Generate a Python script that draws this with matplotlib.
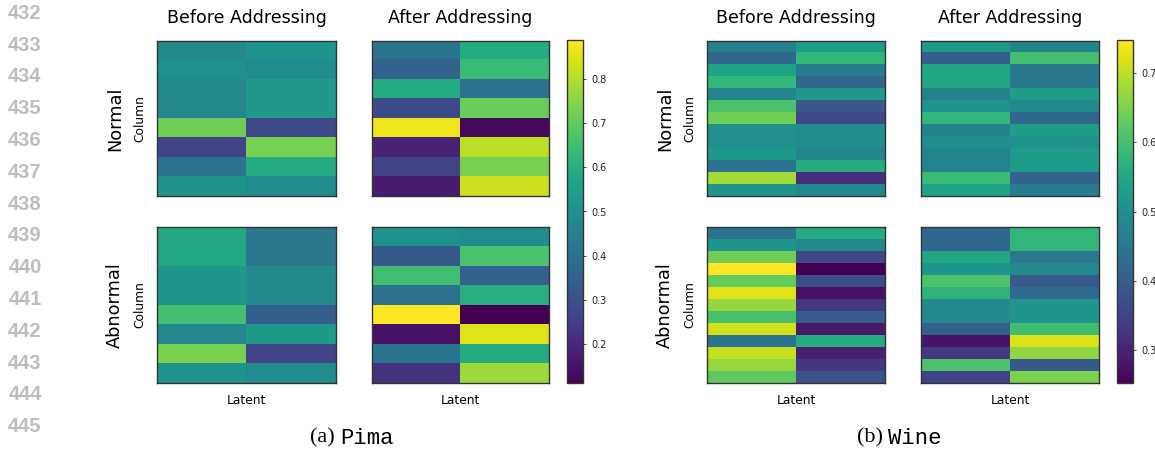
import numpy as np
import matplotlib
matplotlib.use("Agg")
import matplotlib.pyplot as plt

W, H = 1155, 450

# Attention weights per feature row over the two latent units
pima_normal_before = [[0.48, 0.52], [0.51, 0.49], [0.47, 0.53], [0.47, 0.53],
                      [0.72, 0.28], [0.27, 0.73], [0.41, 0.59], [0.515, 0.485]]
pima_normal_after = [[0.41, 0.59], [0.36, 0.64], [0.59, 0.41], [0.29, 0.71],
                     [0.87, 0.13], [0.19, 0.81], [0.27, 0.73], [0.17, 0.83]]
pima_abnormal_before = [[0.58, 0.42], [0.58, 0.42], [0.52, 0.48], [0.52, 0.48],
                        [0.655, 0.345], [0.47, 0.53], [0.733, 0.267], [0.51, 0.49]]
pima_abnormal_after = [[0.51, 0.49], [0.33, 0.67], [0.65, 0.35], [0.40, 0.60],
                       [0.889, 0.111], [0.15, 0.85], [0.41, 0.59], [0.225, 0.775]]

wine_normal_before = [[0.47, 0.53], [0.42, 0.58], [0.54, 0.46], [0.58, 0.42],
                      [0.48, 0.52], [0.61, 0.39], [0.64, 0.36], [0.502, 0.498],
                      [0.502, 0.498], [0.52, 0.48], [0.44, 0.56], [0.68, 0.32],
                      [0.51, 0.49]]
wine_normal_after = [[0.52, 0.48], [0.40, 0.60], [0.55, 0.45], [0.55, 0.45],
                     [0.47, 0.53], [0.51, 0.49], [0.58, 0.42], [0.47, 0.53],
                     [0.495, 0.505], [0.475, 0.525], [0.475, 0.525], [0.59, 0.41],
                     [0.54, 0.46]]
wine_abnormal_before = [[0.44, 0.56], [0.51, 0.49], [0.64, 0.36], [0.748, 0.252],
                        [0.63, 0.37], [0.725, 0.275], [0.67, 0.33], [0.605, 0.395],
                        [0.715, 0.285], [0.44, 0.56], [0.705, 0.295], [0.67, 0.33],
                        [0.625, 0.375]]
wine_abnormal_after = [[0.42, 0.58], [0.42, 0.58], [0.55, 0.45], [0.51, 0.49],
                       [0.61, 0.39], [0.575, 0.425], [0.49, 0.51], [0.485, 0.515],
                       [0.405, 0.595], [0.28, 0.72], [0.335, 0.665], [0.61, 0.39],
                       [0.35, 0.65]]

col_titles = ["Before Addressing", "After Addressing"]
row_titles = ["Normal", "Abnormal"]
panels = [
    ("(a)", "Pima", [[pima_normal_before, pima_normal_after],
                     [pima_abnormal_before, pima_abnormal_after]]),
    ("(b)", "Wine", [[wine_normal_before, wine_normal_after],
                     [wine_abnormal_before, wine_abnormal_after]]),
]

# pixel layout helpers (x0, y0 = top-left corner in pixels)
def px_axes(fig, x0, y0, x1, y1):
    return fig.add_axes([x0 / W, 1 - y1 / H, (x1 - x0) / W, (y1 - y0) / H])

def fx(x):
    return x / W

def fy(y):
    return 1 - y / H

fig = plt.figure(figsize=(W / 100, H / 100), dpi=100)

# line numbers of the page margin
for i, n in enumerate(range(432, 446)):
    fig.text(fx(25), fy(13.3 + i * 31.8), str(n), ha="center", va="center",
             fontsize=14.5, fontweight="bold", color="#bdbdbd",
             family="Liberation Sans")

panel_x = [[157, 336, 372, 549, 567, 583, 115, 140, 337],
           [707, 885, 921, 1099, 1117, 1133, 665, 690, 885]]
row_y = [(41, 196), (227, 383)]
edge = "#333333"

for (tag, name, grid), (l0, l1, r0, r1, c0, c1, lab_x, col_x, cap_x) in zip(panels, panel_x):
    allvals = np.array(grid, dtype=float)
    vmin, vmax = allvals.min(), allvals.max()
    im = None
    for ri, (y0, y1) in enumerate(row_y):
        for ci, (x0, x1) in enumerate([(l0, l1), (r0, r1)]):
            ax = px_axes(fig, x0, y0, x1, y1)
            im = ax.imshow(np.array(grid[ri][ci]), cmap="viridis", vmin=vmin,
                           vmax=vmax, aspect="auto", interpolation="nearest")
            ax.set_xticks([])
            ax.set_yticks([])
            for s in ax.spines.values():
                s.set_color(edge)
                s.set_linewidth(1.0)
            if ri == 0:
                fig.text(fx((x0 + x1) / 2), fy(18), col_titles[ci], ha="center",
                         va="center", fontsize=12.5)
            if ri == 1:
                fig.text(fx((x0 + x1) / 2), fy(401), "Latent", ha="center",
                         va="center", fontsize=8.8)
        ymid = (y0 + y1) / 2
        fig.text(fx(lab_x), fy(ymid), row_titles[ri], rotation=90, ha="center",
                 va="center", fontsize=12.8)
        fig.text(fx(col_x), fy(ymid), "Column", rotation=90, ha="center",
                 va="center", fontsize=8.8)

    cax = px_axes(fig, c0, 40, c1, 383)
    cb = fig.colorbar(im, cax=cax)
    cb.outline.set_edgecolor(edge)
    cb.outline.set_linewidth(1.0)
    cb.ax.tick_params(labelsize=7, length=2.5, width=0.6, colors="#222222")

    # sub-figure caption: serif tag + monospace dataset name
    fig.text(fx(cap_x - 2), fy(438), tag, ha="right", va="center",
             fontsize=16, family="Liberation Serif")
    fig.text(fx(cap_x + 3), fy(438), name, ha="left", va="center",
             fontsize=16, family="Liberation Mono")

fig.savefig("out.png", dpi=100)
